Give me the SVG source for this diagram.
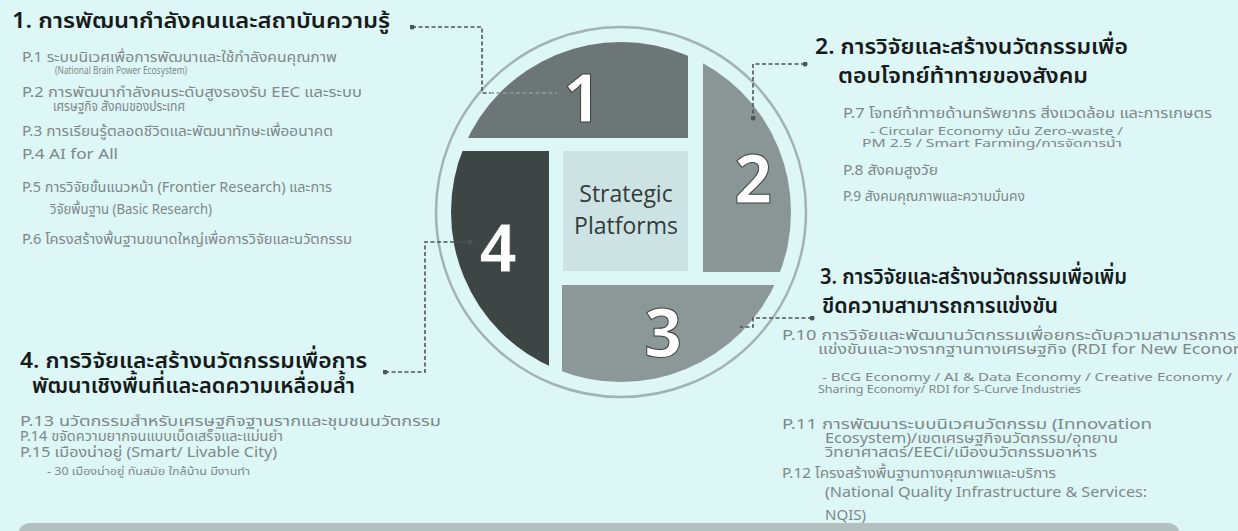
<svg xmlns="http://www.w3.org/2000/svg" width="1238" height="531" viewBox="0 0 1238 531">
<style>
.h{font-family:"Noto Sans Thai","Noto Sans","DejaVu Sans",sans-serif;font-size:22px;font-weight:600;fill:#161a1a}
.p{font-family:"Noto Sans Thai","Noto Sans","DejaVu Sans",sans-serif;font-size:13.5px;fill:#7d8888}
.q{font-family:"Noto Sans Thai","Noto Sans","DejaVu Sans",sans-serif;font-size:14.5px;fill:#7d8888}
.s{font-family:"Noto Sans Thai","Noto Sans","DejaVu Sans",sans-serif;font-size:11px;fill:#7d8888}
.num{font-family:"Open Sans","DejaVu Sans",sans-serif;font-size:66px;font-weight:700;fill:#ffffff;stroke:#3a4242;stroke-width:1;text-anchor:middle}
.ctr{font-family:"Open Sans","Noto Sans",sans-serif;font-size:23px;fill:#333b3b;text-anchor:middle}
.dash{fill:none;stroke:#4c5555;stroke-width:1.6;stroke-dasharray:4 2.5}
.dashl{fill:none;stroke:#8e9c9c;stroke-width:1.6;stroke-dasharray:4 2.5}
</style>
<defs>
<clipPath id="disk"><circle cx="621" cy="212" r="170"/></clipPath>
<marker id="dot" viewBox="0 0 10 10" refX="5" refY="5" markerWidth="5" markerHeight="5" markerUnits="userSpaceOnUse"><circle cx="5" cy="5" r="5" fill="#4c5555"/></marker>
</defs>
<rect width="1238" height="531" fill="#ddf6f6"/>
<rect x="18" y="523" width="1162" height="30" rx="12" fill="#b3c0c0"/>

<g id="platforms">
<circle cx="621" cy="212" r="185" fill="none" stroke="#a3b2b2" stroke-width="2.5"/>
<g clip-path="url(#disk)">
<rect id="q1" x="440" y="30" width="248" height="108" fill="#6d7676"/>
<rect id="q2" x="703" y="30" width="100" height="242" fill="#8a9595"/>
<rect id="q3" x="562" y="285" width="240" height="110" fill="#8c9797"/>
<rect id="q4" x="440" y="151" width="109" height="245" fill="#3d4545"/>
</g>
<rect x="563" y="151" width="125" height="120" fill="#cde3e3"/>
<text class="ctr" x="626" y="202">Strategic</text>
<text class="ctr" x="626" y="234">Platforms</text>
<text class="num" x="582" y="122">1</text>
<text class="num" x="753" y="203">2</text>
<text class="num" x="663" y="357">3</text>
<text class="num" x="498" y="272">4</text>
</g>

<g id="connectors">
<path class="dash" d="M412 27 H482 V93 H490" marker-start="url(#dot)"/>
<path class="dashl" d="M490 93 H557"/>
<path class="dash" d="M805 64 H753 V118" marker-start="url(#dot)" marker-end="url(#dot)"/>
<path class="dash" d="M812 318 H753 V327 H740" marker-start="url(#dot)"/>
<path class="dashl" d="M740 327 H690"/>
<path class="dash" d="M385 372 H425 V242 H470" marker-start="url(#dot)" marker-end="url(#dot)"/>
</g>

<g id="p1">
<text class="h" x="12" y="28" textLength="378" lengthAdjust="spacingAndGlyphs">1. การพัฒนากำลังคนและสถาบันความรู้</text>
<text class="p" x="22" y="62" textLength="315" lengthAdjust="spacingAndGlyphs">P.1 ระบบนิเวศเพื่อการพัฒนาและใช้กำลังคนคุณภาพ</text>
<text class="s" x="55" y="74" font-size="10" textLength="132" lengthAdjust="spacingAndGlyphs">(National Brain Power Ecosystem)</text>
<text class="p" x="22" y="97" textLength="340" lengthAdjust="spacingAndGlyphs">P.2 การพัฒนากำลังคนระดับสูงรองรับ EEC และระบบ</text>
<text class="p" x="53" y="111" textLength="132" lengthAdjust="spacingAndGlyphs">เศรษฐกิจ สังคมของประเทศ</text>
<text class="p" x="22" y="136" textLength="311" lengthAdjust="spacingAndGlyphs">P.3 การเรียนรู้ตลอดชีวิตและพัฒนาทักษะเพื่ออนาคต</text>
<text class="p" x="22" y="159" textLength="96" lengthAdjust="spacingAndGlyphs">P.4 AI for All</text>
<text class="p" x="22" y="192" textLength="310" lengthAdjust="spacingAndGlyphs">P.5 การวิจัยขั้นแนวหน้า (Frontier Research) และการ</text>
<text class="p" x="50" y="214" textLength="162" lengthAdjust="spacingAndGlyphs">วิจัยพื้นฐาน (Basic Research)</text>
<text class="p" x="22" y="244" textLength="330" lengthAdjust="spacingAndGlyphs">P.6 โครงสร้างพื้นฐานขนาดใหญ่เพื่อการวิจัยและนวัตกรรม</text>
</g>

<g id="p2">
<text class="h" x="815" y="54" textLength="313" lengthAdjust="spacingAndGlyphs">2. การวิจัยและสร้างนวัตกรรมเพื่อ</text>
<text class="h" x="838" y="83" textLength="250" lengthAdjust="spacingAndGlyphs">ตอบโจทย์ท้าทายของสังคม</text>
<text class="p" x="843" y="118" textLength="369" lengthAdjust="spacingAndGlyphs">P.7 โจทย์ท้าทายด้านทรัพยากร สิ่งแวดล้อม และการเกษตร</text>
<text class="s" x="870" y="135" textLength="253" lengthAdjust="spacingAndGlyphs">- Circular Economy เน้น Zero-waste /</text>
<text class="s" x="862" y="147" textLength="260" lengthAdjust="spacingAndGlyphs">PM 2.5 / Smart Farming/การจัดการน้ำ</text>
<text class="p" x="843" y="175" textLength="95" lengthAdjust="spacingAndGlyphs">P.8 สังคมสูงวัย</text>
<text class="p" x="843" y="201" textLength="182" lengthAdjust="spacingAndGlyphs">P.9 สังคมคุณภาพและความมั่นคง</text>
</g>

<g id="p3">
<text class="h" x="820" y="284" textLength="307" lengthAdjust="spacingAndGlyphs">3. การวิจัยและสร้างนวัตกรรมเพื่อเพิ่ม</text>
<text class="h" x="822" y="313" textLength="236" lengthAdjust="spacingAndGlyphs">ขีดความสามารถการแข่งขัน</text>
<text class="q" x="782" y="340" textLength="454" lengthAdjust="spacingAndGlyphs">P.10 การวิจัยและพัฒนานวัตกรรมเพื่อยกระดับความสามารถการ</text>
<text class="q" x="818" y="354" textLength="422" lengthAdjust="spacingAndGlyphs">แข่งขันและวางรากฐานทางเศรษฐกิจ (RDI for New Econor</text>
<text class="s" x="822" y="381" textLength="410" lengthAdjust="spacingAndGlyphs">- BCG Economy / AI &amp; Data Economy / Creative Economy /</text>
<text class="s" x="818" y="393" textLength="263" lengthAdjust="spacingAndGlyphs">Sharing Economy/ RDI for S-Curve Industries</text>
<text class="q" x="782" y="429" textLength="370" lengthAdjust="spacingAndGlyphs">P.11 การพัฒนาระบบนิเวศนวัตกรรม (Innovation</text>
<text class="q" x="825" y="443" textLength="293" lengthAdjust="spacingAndGlyphs">Ecosystem)/เขตเศรษฐกิจนวัตกรรม/อุทยาน</text>
<text class="q" x="825" y="457" textLength="272" lengthAdjust="spacingAndGlyphs">วิทยาศาสตร์/EECi/เมืองนวัตกรรมอาหาร</text>
<text class="q" x="782" y="478" textLength="274" lengthAdjust="spacingAndGlyphs">P.12 โครงสร้างพื้นฐานทางคุณภาพและบริการ</text>
<text class="q" x="825" y="497" textLength="322" lengthAdjust="spacingAndGlyphs">(National Quality Infrastructure &amp; Services:</text>
<text class="q" x="825" y="520" textLength="41" lengthAdjust="spacingAndGlyphs">NQIS)</text>
</g>

<g id="p4">
<text class="h" x="20" y="368" textLength="347" lengthAdjust="spacingAndGlyphs">4. การวิจัยและสร้างนวัตกรรมเพื่อการ</text>
<text class="h" x="32" y="393" textLength="323" lengthAdjust="spacingAndGlyphs">พัฒนาเชิงพื้นที่และลดความเหลื่อมล้ำ</text>
<text class="p" x="20" y="426" textLength="421" lengthAdjust="spacingAndGlyphs">P.13 นวัตกรรมสำหรับเศรษฐกิจฐานรากและชุมชนนวัตกรรม</text>
<text class="p" x="20" y="441" textLength="263" lengthAdjust="spacingAndGlyphs">P.14 ขจัดความยากจนแบบเบ็ดเสร็จและแม่นยำ</text>
<text class="p" x="20" y="457" textLength="257" lengthAdjust="spacingAndGlyphs">P.15 เมืองน่าอยู่ (Smart/ Livable City)</text>
<text class="s" x="47" y="475" textLength="203" lengthAdjust="spacingAndGlyphs">- 30 เมืองน่าอยู่ ทันสมัย ใกล้บ้าน มีงานทำ</text>
</g>
</svg>
